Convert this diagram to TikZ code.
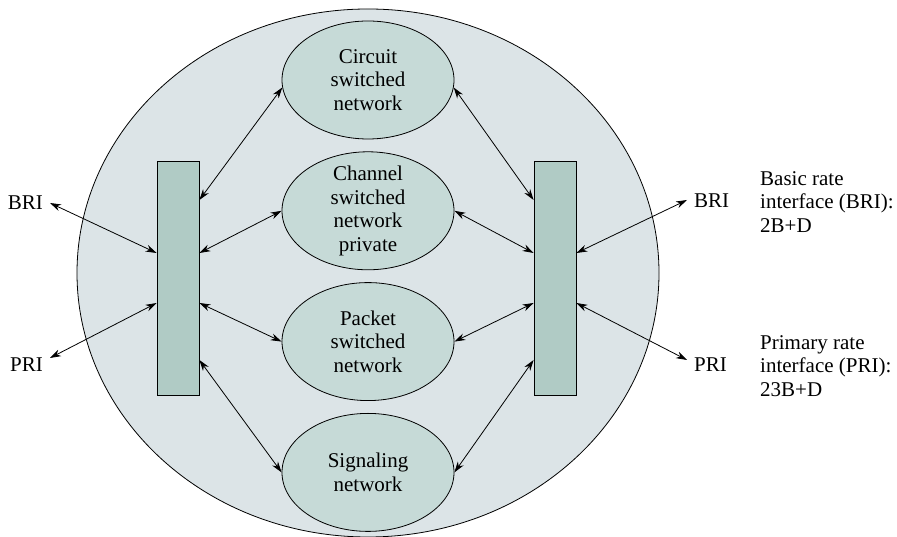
\documentclass[tikz,border=0pt]{standalone}
\usepackage{fontspec}
\setmainfont{Liberation Serif}
\usetikzlibrary{arrows.meta,positioning,shapes.geometric}
\definecolor{isdnouter}{RGB}{220,228,231}
\definecolor{isdnnet}{RGB}{198,218,215}
\definecolor{isdnbox}{RGB}{176,203,197}

\begin{document}
\begin{tikzpicture}[x=1pt,y=1pt,font=\fontsize{21}{23.5}\selectfont,
    net/.style={ellipse,draw,line width=0.8pt,fill=isdnnet,
                minimum width=172pt,minimum height=118pt,inner sep=0pt,
                label={[align=center,inner sep=0pt]center:{#1}}},
    port/.style={draw,line width=0.8pt,fill=isdnbox,
                 minimum width=42pt,minimum height=234pt,inner sep=0pt},
    link/.style={<->,>={Stealth[length=11pt,width=7pt]},line width=0.8pt},
    tag/.style={inner ysep=0pt,inner xsep=7pt},
    note/.style={align=left,inner sep=0pt}]
  \useasboundingbox (0,0) rectangle (897,537);
  % ISDN cloud
  \node[ellipse,draw,line width=0.8pt,fill=isdnouter,
        minimum width=582pt,minimum height=528pt] (cloud) at (368,264) {};
  % networks
  \node[net={Circuit\\switched\\network}] (circ) at (368,457) {};
  \node[net={Channel\\switched\\network\\private},below=12pt of circ] (chan) {};
  \node[net={Packet\\switched\\network},below=12pt of chan] (pack) {};
  \node[net={Signaling\\network},below=12pt of pack] (sig) {};
  % switches
  \node[port] (lsw) at (178,259) {};
  \node[port] (rsw) at (555,259) {};
  % user side
  \node[tag,anchor=east] (bril) at (50,334) {BRI};
  \node[tag,anchor=east] (pril) at (50,172) {PRI};
  \node[tag,anchor=west] (brir) at (687,336) {BRI};
  \node[tag,anchor=west] (prir) at (687,172) {PRI};
  \node[note,anchor=west] (bnote) at (760,335) {Basic rate\\interface (BRI):\\2B+D};
  \node[note,anchor=west] (pnote) at (760,171) {Primary rate\\interface (PRI):\\23B+D};
  % links
  \draw[link] ([yshift=78pt]lsw.east) -- (circ.185);
  \draw[link] ([yshift=25pt]lsw.east) -- (chan.west);
  \draw[link] ([yshift=-25pt]lsw.east) -- (pack.west);
  \draw[link] ([yshift=-82pt]lsw.east) -- (sig.west);
  \draw[link] ([yshift=78pt]rsw.west) -- (circ.355);
  \draw[link] ([yshift=25pt]rsw.west) -- (chan.east);
  \draw[link] ([yshift=-25pt]rsw.west) -- (pack.east);
  \draw[link] ([yshift=-82pt]rsw.west) -- (sig.east);
  \draw[link] ([yshift=25pt]lsw.west) -- (bril.east);
  \draw[link] ([yshift=-25pt]lsw.west) -- ([yshift=7pt]pril.east);
  \draw[link] ([yshift=25pt]rsw.east) -- ([yshift=1pt]brir.west);
  \draw[link] ([yshift=-25pt]rsw.east) -- ([yshift=5pt]prir.west);
\end{tikzpicture}
\end{document}
